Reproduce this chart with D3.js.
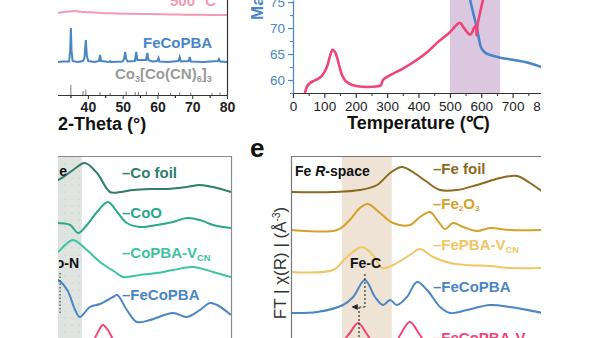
<!DOCTYPE html>
<html>
<head>
<meta charset="utf-8">
<script src="https://cdn.jsdelivr.net/npm/d3@7/dist/d3.min.js"></script>
<style>
  body { margin: 0; background: #fff; }
  svg { display: block; font-family: "Liberation Sans", Arial, sans-serif; }
</style>
</head>
<body>
<svg id="fig" width="600" height="338"></svg>
<script>
// ---------- XRD (2-theta, intensity a.u.) ----------
const thetaTicks = [40, 50, 60, 70, 80];
const thetaMinor = [35, 45, 55, 65, 75];
const xrd500 = [[31.4,83],[33,84],[35,84.6],[36.5,85],[38,84.2],[40,83.8],[42,83.4],[45,82.8],[48,82.6],[52,82.2],[56,82],[60,81.7],[64,81.6],[68,81.3],[72,81.2],[76,81],[80,81]];
const xrdFeCoPBA = [[31.4,34],[33,34.5],[34.6,34.5],[34.9,45],[35.1,68],[35.3,45],[35.6,35],[37,34],[38.6,35],[39.0,38],[39.4,56],[39.7,40],[40.1,35],[42,34],[43.2,35],[43.5,41],[43.8,35],[46,34],[46.4,35],[46.7,34],[50,34.5],[50.4,37],[50.7,44],[51.0,37],[51.4,34.5],[53.5,35],[53.9,44],[54.2,36],[56.7,36],[57.1,43],[57.4,36],[58.5,34.5],[60,35],[60.3,38],[60.6,34.5],[63,34],[66,35],[66.4,39],[66.7,34.5],[69,35],[69.3,39],[69.6,34.5],[73,34],[77.4,35],[77.7,37],[78,34.5],[80,34]];
// Co3[Co(CN)6]3 reference pattern: position, relative intensity
const refPos = [35.1, 38.6, 39.4, 43.5, 46.4, 51.0, 53.6, 54.5, 56.8, 60.3, 63.8, 66.4, 69.6, 75.7, 78.0];
const refInt = [100, 40, 55, 30, 20, 35, 30, 30, 35, 25, 20, 25, 25, 20, 25];

// ---------- TGA / DSC ----------
const tempTicks = [0, 100, 200, 300, 400, 500, 600, 700, 800];
const tempMinor = [50, 150, 250, 350, 450, 550, 650, 750];
const massTicks = [60, 65, 70, 75];
const massMinor = [57.5, 62.5, 67.5, 72.5];
const tgaBand = [500, 660];
const massCurve = [[564,75.6],[570,74],[578,72],[586,70],[590,68.8],[595,67.2],[600,66.2],[610,65.4],[620,65],[640,64.6],[660,64.3],[700,63.9],[750,63.3],[800,62.3]];
const heatCurve = [[38,57.5],[45,58.8],[54,59.4],[65,59.8],[76,60.1],[92,60.8],[108,62.5],[118,64.6],[126,65.8],[134,65.4],[141,64.2],[148,62.6],[156,61],[165,60],[172,59.6],[192,59],[222,58.7],[255,58.7],[271,58.8],[280,59],[287,60],[300,60.6],[318,61.2],[350,62.2],[393,63.8],[430,65.5],[458,67.1],[500,69.2],[515,70.2],[527,70.9],[533,71],[545,70],[558,69],[565,68.7],[572,69.3],[579,70.3],[583,70.3],[585,68.6],[588,70.5],[596,72.9],[606,75.6]];

// ---------- Co R-space (R in Å, stacked amplitude) ----------
const coFoil = [[1.57,15.7],[1.88,15.8],[2.24,16.8],[2.52,17.5],[2.81,16.5],[3.12,14.6],[3.36,14.6],[3.67,14.8],[4.07,14.9],[4.48,14.9],[4.95,15.1],[5.26,15.3],[5.57,15.1],[6.0,14.6]];
const coO = [[1.57,11.6],[1.88,11.5],[2.17,11.3],[2.36,10.5],[2.57,11.3],[2.81,12.6],[3.07,13.6],[3.29,12.6],[3.52,11.5],[3.83,11.1],[4.24,11.3],[4.62,11.6],[4.95,12.0],[5.26,11.8],[5.57,11.3],[6.0,11.0]];
const coPBAvcn = [[1.57,8.0],[1.88,8.6],[2.05,9.3],[2.24,9.8],[2.57,8.8],[2.88,7.6],[3.24,6.6],[3.43,6.1],[3.83,6.3],[4.24,6.5],[4.62,6.8],[5.10,7.1],[5.57,6.6],[6.0,6.1]];
const coFeCoPBA = [[1.57,6.0],[1.88,5.8],[2.10,4.8],[2.29,2.8],[2.40,2.1],[2.64,3.1],[2.88,3.4],[3.19,4.1],[3.29,4.3],[3.52,2.8],[3.76,1.6],[4.07,1.8],[4.62,2.5],[4.95,2.1],[5.26,2.8],[5.50,3.5],[5.67,3.3],[6.0,2.3]];
const coFeCoPBAvcn = [[2.6,-1.2],[2.76,0],[2.86,0.8],[2.95,1.3],[3.07,0.8],[3.17,0],[3.3,-1.2]];

// ---------- Fe R-space ----------
const feFoil = [[0,14.6],[1.0,14.6],[1.64,14.8],[2.05,15.3],[2.36,16.5],[2.64,17.1],[2.90,16.6],[3.24,15.6],[3.55,14.8],[3.95,14.8],[4.43,15.3],[4.98,16.0],[5.38,16.2],[5.69,15.5],[6.0,14.6]];
const fe2O3 = [[0,10.8],[1.10,10.8],[1.40,11.8],[1.64,13.0],[1.83,13.4],[2.12,12.5],[2.43,11.5],[2.83,11.3],[3.07,12.1],[3.31,12.6],[3.48,11.8],[3.67,10.9],[3.86,11.5],[4.10,11.1],[4.43,10.7],[4.74,11.0],[5.21,10.8],[6.0,10.8]];
const fePBAvcn = [[0,6.6],[1.0,6.8],[1.33,8.1],[1.69,9.1],[1.95,8.3],[2.17,7.0],[2.43,7.3],[2.83,8.3],[3.07,8.9],[3.38,8.1],[3.79,7.5],[4.19,7.3],[4.74,7.2],[5.21,7.0],[6.0,7.0]];
const feFeCoPBA = [[0,2.5],[0.62,2.6],[1.24,3.3],[1.48,4.1],[1.76,5.8],[2.0,4.1],[2.19,3.3],[2.36,3.8],[2.52,3.3],[2.76,4.1],[3.0,5.6],[3.24,4.8],[3.55,3.1],[3.79,2.5],[4.19,2.8],[4.74,3.3],[5.21,3.1],[6.0,2.5]];
const feFeCoPBAvcn = [[1.0,-1.5],[1.17,-0.7],[1.40,0.5],[1.60,1.5],[1.79,0.5],[2.0,-0.7],[2.40,-1.2],[2.60,0.3],[2.83,1.6],[3.07,0.3],[3.31,-1.0],[4.0,-1.2]];
const coBand = [1.4, 2.45];
const feBand = [1.21, 2.40];

const C = {
  pinkLight: "#f59ab4", pink: "#ef4477", blue: "#4a86c5", grayTxt: "#9a9a9a",
  coFoil: "#2f7d6a", coO: "#27a98a", coPBA: "#3cc3a0",
  feFoil: "#8b6a1f", fe2O3: "#d6a12a", fePBA: "#efc764",
  purple: "#dcc7e1", coBand: "#dfe4e1", feBand: "#eee3d4"
};

const svg = d3.select("#fig");
const defs = svg.append("defs");
function clip(id, x, y, w, h) {
  defs.append("clipPath").attr("id", id).append("rect").attr("x", x).attr("y", y).attr("width", w).attr("height", h);
  return `url(#${id})`;
}
const dots = defs.append("pattern").attr("id", "dots").attr("width", 7).attr("height", 7).attr("patternUnits", "userSpaceOnUse");
dots.append("rect").attr("width", 7).attr("height", 7).attr("fill", C.coBand);
dots.append("circle").attr("cx", 2).attr("cy", 3).attr("r", 0.6).attr("fill", "#b9c1bc");
defs.append("marker").attr("id", "arr").attr("viewBox", "0 0 6 6").attr("refX", 5).attr("refY", 3)
  .attr("markerWidth", 5).attr("markerHeight", 5).attr("orient", "auto")
  .append("path").attr("d", "M0,0L6,3L0,6Z").attr("fill", "#222");

function text(g, x, y, str, o) {
  return g.append("text").attr("x", x).attr("y", y).text(str)
    .attr("font-size", o.size).attr("font-weight", o.weight || "bold")
    .attr("fill", o.fill || "#111").attr("text-anchor", o.anchor || "start");
}
// label with a trailing subscript (e.g. V_CN)
function subLabel(g, x, y, main, sub, color, size) {
  const t = g.append("text").attr("x", x).attr("y", y).attr("font-size", size)
    .attr("font-weight", "bold").attr("fill", color);
  t.append("tspan").text(main);
  t.append("tspan").attr("font-size", size * 0.62).attr("dy", 3).text(sub);
  return t;
}

// ================= XRD =================
const xT = d3.scaleLinear().domain([31.4, 80]).range([58, 227]);
const yX = d3.scaleLinear().domain([0, 96]).range([96, 0]);
const gX = svg.append("g");
const gXc = gX.append("g").attr("clip-path", clip("cX", 58, 0, 170, 96));
const lineX = d3.line().x(d => xT(d[0])).y(d => yX(d[1]));
gXc.append("path").datum(xrd500).attr("d", lineX.curve(d3.curveCatmullRom))
  .attr("fill", "none").attr("stroke", C.pinkLight).attr("stroke-width", 2);
gXc.append("path").datum(xrdFeCoPBA).attr("d", d3.line().x(d => xT(d[0])).y(d => yX(d[1])))
  .attr("fill", "none").attr("stroke", C.blue).attr("stroke-width", 2);
gXc.selectAll(".stick").data(refPos).join("line").attr("class", "stick")
  .attr("x1", d => xT(d)).attr("x2", d => xT(d))
  .attr("y1", yX(1)).attr("y2", (d, i) => yX(1 + refInt[i] * 0.1))
  .attr("stroke", "#777").attr("stroke-width", 1);
gX.append("g").attr("transform", "translate(0,95)")
  .call(d3.axisBottom(xT).tickValues(thetaMinor).tickSize(3).tickFormat(""))
  .call(g => g.select(".domain").remove());
gX.append("g").attr("transform", "translate(0,95)")
  .call(d3.axisBottom(xT).tickValues(thetaTicks).tickSize(4).tickPadding(3).tickSizeOuter(0))
  .call(g => g.select(".domain").attr("d", "M58,0.5H227.5"))
  .call(g => g.selectAll("text").attr("font-size", 14).attr("font-weight", "bold").attr("fill", "#222"))
  .call(g => g.selectAll("line,path").attr("stroke", "#333"));
gX.append("line").attr("x1", 227.5).attr("x2", 227.5).attr("y1", 0).attr("y2", 96).attr("stroke", "#333").attr("stroke-width", 1.2);
text(gX, 170, 6, "500 °C", { size: 15, fill: C.pinkLight });
text(gX, 143, 48, "FeCoPBA", { size: 15, fill: C.blue });
const refLbl = gX.append("text").attr("x", 115).attr("y", 79).attr("font-size", 15).attr("font-weight", "bold").attr("fill", C.grayTxt);
refLbl.append("tspan").text("Co");
refLbl.append("tspan").attr("font-size", 9).attr("dy", 3).text("3");
refLbl.append("tspan").attr("dy", -3).text("[Co(CN)");
refLbl.append("tspan").attr("font-size", 9).attr("dy", 3).text("6");
refLbl.append("tspan").attr("dy", -3).text("]");
refLbl.append("tspan").attr("font-size", 9).attr("dy", 3).text("3");
text(gX, 58, 130, "2-Theta (°)", { size: 18 });

// ================= TGA / DSC =================
const xC = d3.scaleLinear().domain([0, 800]).range([293, 544]);
const yM = d3.scaleLinear().domain([57.5, 75.4]).range([93, 0]);
const gT = svg.append("g").attr("clip-path", clip("cTall", 240, 0, 301, 140));
gT.append("rect").attr("x", xC(tgaBand[0])).attr("y", 0)
  .attr("width", xC(tgaBand[1]) - xC(tgaBand[0])).attr("height", 93).attr("fill", C.purple);
const gTc = gT.append("g").attr("clip-path", clip("cT", 293, 0, 248, 93));
const lineT = d3.line().x(d => xC(d[0])).y(d => yM(d[1])).curve(d3.curveCatmullRom);
gTc.append("path").datum(massCurve).attr("d", lineT).attr("fill", "none").attr("stroke", C.blue).attr("stroke-width", 2.6);
gTc.append("path").datum(heatCurve).attr("d", lineT).attr("fill", "none").attr("stroke", C.pink).attr("stroke-width", 2.6);
gT.append("g").attr("transform", "translate(0,93)")
  .call(d3.axisBottom(xC).tickValues(tempMinor).tickSize(3).tickFormat(""))
  .call(g => g.select(".domain").remove())
  .call(g => g.selectAll("line").attr("stroke", "#333"));
gT.append("g").attr("transform", "translate(0,93)")
  .call(d3.axisBottom(xC).tickValues(tempTicks).tickSize(5).tickPadding(3).tickSizeOuter(0))
  .call(g => g.select(".domain").attr("d", "M293,0.5H544"))
  .call(g => g.selectAll("text").attr("font-size", 13.5).attr("fill", "#222"))
  .call(g => g.selectAll("line,path").attr("stroke", "#333").attr("stroke-width", 1.2));
gT.append("g").attr("transform", "translate(293,0)")
  .call(d3.axisLeft(yM).tickValues(massMinor).tickSize(3).tickFormat(""))
  .call(g => g.select(".domain").remove())
  .call(g => g.selectAll("line").attr("stroke", C.blue));
gT.append("g").attr("transform", "translate(293,0)")
  .call(d3.axisLeft(yM).tickValues(massTicks).tickSize(5).tickPadding(3).tickSizeOuter(0))
  .call(g => g.selectAll("text").attr("font-size", 13.5).attr("fill", C.blue))
  .call(g => g.selectAll("line,path").attr("stroke", C.blue).attr("stroke-width", 1.2));
gT.append("text").attr("transform", "translate(263,20) rotate(-90)").text("Mass (%)")
  .attr("font-size", 17).attr("font-weight", "bold").attr("fill", C.blue);
text(gT, 347, 129, "Temperature (℃)", { size: 18 });

// ================= Co R-space =================
const xCo = d3.scaleLinear().domain([0, 6]).range([-21, 231]);
const yR = d3.scaleLinear().domain([0, 18.2]).range([338, 156]);
const gCo = svg.append("g");
const gCoc = gCo.append("g").attr("clip-path", clip("cCo", 58, 156, 173, 182));
gCoc.append("rect").attr("x", xCo(coBand[0])).attr("y", 156)
  .attr("width", xCo(coBand[1]) - xCo(coBand[0])).attr("height", 182).attr("fill", "url(#dots)");
const lineCo = d3.line().x(d => xCo(d[0])).y(d => yR(d[1])).curve(d3.curveCatmullRom);
[[coFoil, C.coFoil], [coO, C.coO], [coPBAvcn, C.coPBA], [coFeCoPBA, C.blue], [coFeCoPBAvcn, C.pink]]
  .forEach(([d, c]) => gCoc.append("path").datum(d).attr("d", lineCo).attr("fill", "none").attr("stroke", c).attr("stroke-width", 2));
gCoc.append("line").attr("x1", xCo(1.93)).attr("x2", xCo(1.93)).attr("y1", yR(6.5)).attr("y2", yR(2.5))
  .attr("stroke", "#444").attr("stroke-width", 1.2).attr("stroke-dasharray", "1.5,2");
gCo.append("path").attr("d", "M58,156.5H231.5V338").attr("fill", "none").attr("stroke", "#8a8a8a").attr("stroke-width", 1.2);
const gCot = gCo.append("g").attr("clip-path", clip("cCoT", 59, 156, 172, 182));
gCot.append("text").attr("x", 67).attr("y", 176).attr("text-anchor", "end").attr("font-size", 14).attr("font-weight", "bold").attr("fill", "#111").text("Co R-space");
gCot.append("text").attr("x", 79).attr("y", 268).attr("text-anchor", "end").attr("font-size", 14).attr("font-weight", "bold").attr("fill", "#111").text("Co-N");
text(gCo, 122, 178, "–Co foil", { size: 15, fill: C.coFoil });
text(gCo, 122, 218, "–CoO", { size: 15, fill: C.coO });
subLabel(gCo, 122, 258, "–CoPBA-V", "CN", C.coPBA, 15);
text(gCo, 122, 300, "–FeCoPBA", { size: 15, fill: C.blue });

// ================= Fe R-space =================
const xFe = d3.scaleLinear().domain([0, 6]).range([291, 543]);
const gFe = svg.append("g").attr("clip-path", clip("cFeAll", 245, 130, 296, 208));
const gFec = gFe.append("g").attr("clip-path", clip("cFe", 291, 156, 250, 182));
gFec.append("rect").attr("x", xFe(feBand[0])).attr("y", 156)
  .attr("width", xFe(feBand[1]) - xFe(feBand[0])).attr("height", 182).attr("fill", C.feBand);
const lineFe = d3.line().x(d => xFe(d[0])).y(d => yR(d[1])).curve(d3.curveCatmullRom);
[[feFoil, C.feFoil], [fe2O3, C.fe2O3], [fePBAvcn, C.fePBA], [feFeCoPBA, C.blue], [feFeCoPBAvcn, C.pink]]
  .forEach(([d, c]) => gFec.append("path").datum(d).attr("d", lineFe).attr("fill", "none").attr("stroke", c).attr("stroke-width", 2));
// Fe-C guide
const dash = { stroke: "#333", w: 1.2, da: "2,2" };
gFec.append("line").attr("x1", xFe(1.76)).attr("x2", xFe(1.76)).attr("y1", yR(6.4)).attr("y2", yR(3.1))
  .attr("stroke", dash.stroke).attr("stroke-width", dash.w).attr("stroke-dasharray", dash.da);
gFec.append("line").attr("x1", xFe(1.76)).attr("x2", xFe(1.47)).attr("y1", yR(3.1)).attr("y2", yR(3.1))
  .attr("stroke", dash.stroke).attr("stroke-width", dash.w).attr("stroke-dasharray", "2,1.5").attr("marker-end", "url(#arr)");
gFec.append("line").attr("x1", xFe(1.62)).attr("x2", xFe(1.62)).attr("y1", yR(3.1)).attr("y2", yR(-1))
  .attr("stroke", dash.stroke).attr("stroke-width", dash.w).attr("stroke-dasharray", dash.da);
gFe.append("path").attr("d", "M291.5,338V156.5H541").attr("fill", "none").attr("stroke", "#777").attr("stroke-width", 1.2);
const rs = gFe.append("text").attr("x", 295).attr("y", 176).attr("font-size", 14).attr("font-weight", "bold").attr("fill", "#111");
rs.append("tspan").text("Fe ");
rs.append("tspan").attr("font-style", "italic").text("R");
rs.append("tspan").text("-space");
text(gFe, 350, 268, "Fe-C", { size: 14 });
text(gFe, 433, 174, "–Fe foil", { size: 15, fill: C.feFoil });
const f2 = gFe.append("text").attr("x", 433).attr("y", 209).attr("font-size", 15).attr("font-weight", "bold").attr("fill", C.fe2O3);
f2.append("tspan").text("–Fe");
f2.append("tspan").attr("font-size", 8).attr("dy", 2).text("2");
f2.append("tspan").attr("dy", -2).text("O");
f2.append("tspan").attr("font-size", 8).attr("dy", 2).text("3");
subLabel(gFe, 433, 250, "–FePBA-V", "CN", C.fePBA, 15);
text(gFe, 433, 292, "–FeCoPBA", { size: 15, fill: C.blue });
subLabel(gFe, 433, 343, "–FeCoPBA-V", "CN", C.pink, 15);
// y title
const yt = svg.append("text").attr("transform", "translate(286,263) rotate(-90)").attr("text-anchor", "middle")
  .attr("font-size", 17).attr("fill", "#333");
yt.append("tspan").text("FT | χ(R) | (Å");
yt.append("tspan").attr("font-size", 10).attr("dy", -6).text("-3");
yt.append("tspan").attr("dy", 6).text(")");
text(svg, 250, 157, "e", { size: 26 });
</script>
</body>
</html>
